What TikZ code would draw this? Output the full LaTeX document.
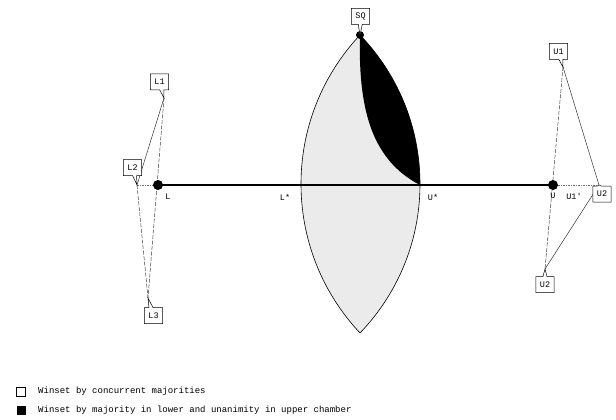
\documentclass[tikz,border=0pt]{standalone}
\usepackage{fontspec}
\newfontfamily\labfont{Liberation Mono}
\usetikzlibrary{shapes.callouts}
\begin{document}
\begin{tikzpicture}[x=1pt,y=-1pt,
  callbox/.style={rectangle callout, draw, fill=white, line width=0.5pt, font=\labfont\fontsize{8.5}{9}\selectfont,
     inner xsep=4pt, inner ysep=2pt, minimum height=16pt, callout pointer width=4pt},
  lbl/.style={font=\labfont\fontsize{8.5}{9}\selectfont, inner sep=1pt},
  thinln/.style={line width=0.5pt, black!80},
  dashln/.style={line width=0.5pt, black!75, dash pattern=on 4pt off 1.5pt},
  dotln/.style={line width=0.6pt, black!55, dash pattern=on 1.5pt off 1pt},
  bigdot/.style={circle, fill=black, inner sep=0pt, minimum size=10pt},
  legtext/.style={font=\labfont\fontsize{9}{10}\selectfont, anchor=west, inner sep=0pt}]
\useasboundingbox (0,0) rectangle (616,420);
% lens fill
\begin{scope}
  \clip (518.6,184) circle (217.6pt);
  \fill[black!8] (205,184) circle (215pt);
\end{scope}
% black region
\begin{scope}
  \clip (205,184) circle (215pt);
  \fill[black] (360,35) .. controls (358,110) and (372,160) .. (420,185) -- (450,185) -- (450,30) -- cycle;
\end{scope}
% lens outline
\begin{scope}
  \clip (205,184) circle (215pt);
  \draw[line width=0.6pt] (518.6,184) circle (217.6pt);
\end{scope}
\begin{scope}
  \clip (518.6,184) circle (217.6pt);
  \draw[line width=0.6pt] (205,184) circle (215pt);
\end{scope}
% points
\coordinate (SQp) at (360,35);
\coordinate (L1p) at (164,98);
\coordinate (L2p) at (137,185);
\coordinate (L3p) at (148,298);
\coordinate (U1p) at (563,67);
\coordinate (U2rp) at (599,185);
\coordinate (U2bp) at (545,269);
\coordinate (Lp) at (158,185);
\coordinate (Up) at (553,185);
% left triangle
\draw[thinln] (L1p) -- (L2p);
\draw[dashln] (L1p) -- (L3p);
\draw[dashln] (L2p) -- (L3p);
\draw[dotln] (L2p) -- (Lp);
% right triangle
\draw[dashln] (U1p) -- (U2bp);
\draw[thinln] (U1p) -- (U2rp);
\draw[thinln] (U2bp) -- (U2rp);
\draw[dotln] (Up) -- (U2rp);
% main line
\draw[line width=1.6pt] (Lp) -- (Up);
\node[bigdot] (L) at (Lp) {};
\node[bigdot] (U) at (Up) {};
\node[circle, fill=black, inner sep=0pt, minimum size=8pt] (SQdot) at (SQp) {};
% callouts
\node[callbox, callout absolute pointer={(SQp)}] (SQ) at (360.5,16.5) {SQ};
\node[callbox, callout absolute pointer={(L1p)}] (L1) at (159.5,82) {L1};
\node[callbox, callout absolute pointer={(L2p)}] (L2) at (132.5,167.5) {L2};
\node[callbox, callout absolute pointer={(L3p)}] (L3) at (153.5,315.5) {L3};
\node[callbox, callout absolute pointer={(U1p)}] (U1) at (558.5,51.5) {U1};
\node[callbox, callout absolute pointer={(U2rp)}] (U2r) at (602,194) {U2};
\node[callbox, callout absolute pointer={(U2bp)}] (U2b) at (545,284.5) {U2};
% labels
\node[lbl] (Llab) at (168,197) {L};
\node[lbl] (Lstar) at (285,197) {L*};
\node[lbl] (Ustar) at (433,197) {U*};
\node[lbl] (Ulab) at (553,196) {U};
\node[lbl] (U1prime) at (574,196) {U1'};
% legend
\node[draw, line width=0.7pt, minimum size=9pt, inner sep=0pt] (legw) at (21,391.5) {};
\node[fill=black, minimum size=9pt, inner sep=0pt] (legb) at (21,410) {};
\node[legtext] (legwt) at (38,391) {Winset by concurrent majorities};
\node[legtext] (legbt) at (38,410) {Winset by majority in lower and unanimity in upper chamber};
\end{tikzpicture}
\end{document}
